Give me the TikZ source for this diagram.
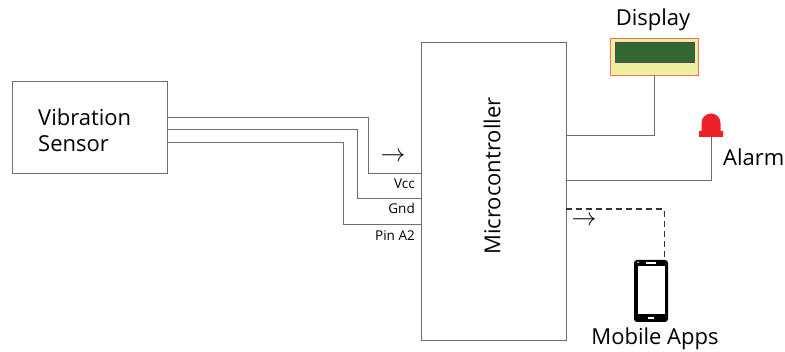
\documentclass[tikz,border=0pt]{standalone}
\usepackage{fontspec}
\setmainfont{Open Sans}
\usetikzlibrary{calc}
\definecolor{wirec}{HTML}{6E6E6E}
\definecolor{lcdbg}{HTML}{EFEFA0}
\definecolor{lcdedge}{HTML}{F07060}
\definecolor{lcdscr}{HTML}{336633}
\definecolor{ledred}{HTML}{EE2128}
\tikzset{
  box/.style={draw=wirec, line width=0.9pt, fill=white, inner sep=0pt},
  wire/.style={draw=wirec, line width=0.9pt},
  bigtxt/.style={font=\fontsize{22}{26}\selectfont, inner sep=0pt},
  pintxt/.style={font=\fontsize{13.5}{15}\selectfont, inner sep=0pt, anchor=base east},
  arrowtxt/.style={font=\fontsize{29}{29}\selectfont, inner sep=0pt},
}
\begin{document}
\begin{tikzpicture}[x=1pt,y=-1pt]
\useasboundingbox (0,0) rectangle (785,352);
% sensor
\node[box, minimum width=155pt, minimum height=92pt] (sensor) at (89.5,127) {};
\node[bigtxt, align=left, anchor=west] (sensortxt) at (38,130) {Vibration\\Sensor};
% microcontroller
\node[box, minimum width=145pt, minimum height=298pt] (mcu) at (493.5,191) {};
\node[bigtxt, rotate=90] (mcutxt) at (492,176) {Microcontroller};
% wires sensor -> mcu
\draw[wire] (sensor.east |- 0,117) -| (368,173) -- (mcu.west |- 0,173);
\draw[wire] (sensor.east |- 0,129) -| (357,198) -- (mcu.west |- 0,198);
\draw[wire] (sensor.east |- 0,142) -| (343,224) -- (mcu.west |- 0,224);
\node[pintxt] (vcc) at (415,189) {Vcc};
\node[pintxt] (gnd) at (415,214) {Gnd};
\node[pintxt] (pin) at (415,241) {Pin A2};
\node[arrowtxt] (arr1) at (393,157) {$\rightarrow$};
% display
\node[draw=lcdedge, fill=lcdbg, line width=0.7pt, minimum width=88pt, minimum height=37pt, inner sep=0pt] (display) at (654,56.5) {};
\draw[draw=black!70, fill=lcdscr, line width=0.6pt] (615,42) rectangle (694,62);
\node[bigtxt] (displaytxt) at (653,20) {Display};
\draw[wire] (mcu.east |- 0,135) -| (display.south);
% alarm LED
\coordinate (alarm) at (711,137);
\fill[ledred] (699,137) -- (699,131) -- (701.5,131) -- (701.5,123) arc[start angle=180, end angle=0, radius=9.5pt] -- (720.5,131) -- (723,131) -- (723,137) -- cycle;
\node[bigtxt, anchor=west] (alarmtxt) at (723,157) {Alarm};
\draw[wire] (mcu.east |- 0,180) -| (alarm);
% phone
\node[fill=black, rounded corners=3pt, minimum width=34pt, minimum height=62pt, inner sep=0pt] (phone) at (651,291) {};
\fill[white] (637.5,266) rectangle (664.5,314);
\fill[white] (646,262.5) rectangle (656,263.8);
\fill[white] (638,262.3) circle (0.9pt);
\fill[white] (648,317) rectangle (654,319.5);
\node[bigtxt] (phonetxt) at (655,339) {Mobile Apps};
\draw[draw=black!80, line width=1.1pt, dash pattern=on 6pt off 4pt] (mcu.east |- 0,209) -| ([xshift=-4pt]phone.north east);
\node[arrowtxt] (arr2) at (584,221) {$\rightarrow$};
\end{tikzpicture}
\end{document}
